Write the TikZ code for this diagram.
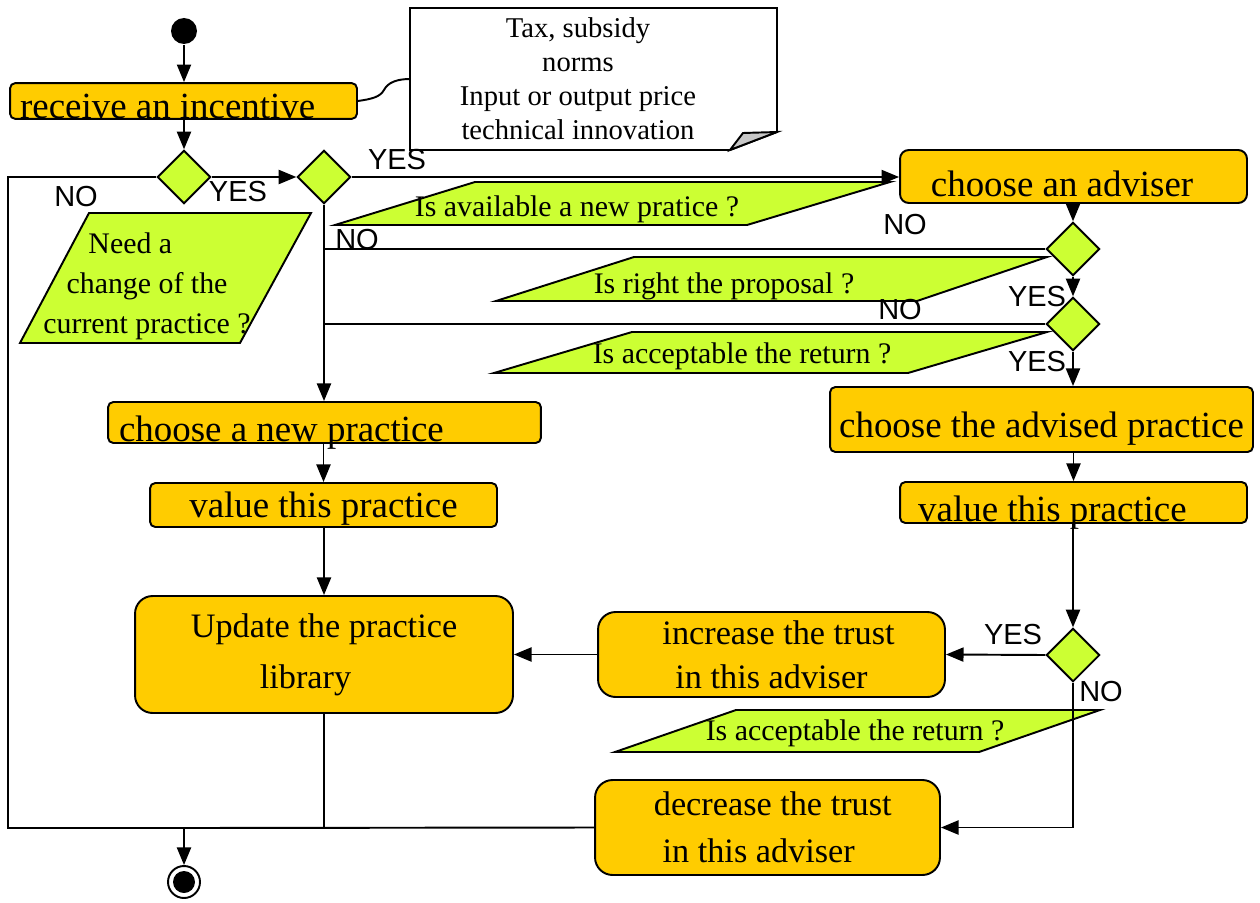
\documentclass[tikz,border=0pt]{standalone}
\usepackage{fontspec}
\setmainfont{Liberation Serif}
\newfontfamily\yesnofont{Liberation Sans}
\usetikzlibrary{arrows.meta,shapes.geometric}

\definecolor{actorange}{HTML}{FFCC00}
\definecolor{askgreen}{HTML}{CCFF33}
\definecolor{foldgray}{HTML}{C8C8C8}

\newcommand{\actfont}{\fontsize{21pt}{25pt}\selectfont}
\newcommand{\bigactfont}{\fontsize{19.5pt}{25pt}\selectfont}
\newcommand{\askfont}{\fontsize{17pt}{22.7pt}\selectfont}
\newcommand{\notefont}{\fontsize{16.3pt}{19.3pt}\selectfont}

\begin{document}
\begin{tikzpicture}[
    x=0.02cm, y=-0.02cm, line width=1.1pt,
    act/.style={rectangle, draw=black, fill=actorange, rounded corners=3pt, inner sep=0pt, font=\actfont, text depth=0pt},
    bigact/.style={rectangle, draw=black, fill=actorange, rounded corners=10pt, align=center, font=\bigactfont},
    sink/.style={text height=#1},
    choice/.style={diamond, draw=black, fill=askgreen, inner sep=0pt, minimum width=1.07cm, minimum height=1.07cm},
    ask/.style={draw=black, fill=askgreen},
    asktext/.style={font=\askfont, anchor=base},
    yn/.style={font=\yesnofont\fontsize{16.5pt}{18pt}\selectfont},
    arrow/.style={-{Triangle[length=10pt, width=8pt]}},
    startnode/.style={circle, fill=black, minimum size=0.52cm, inner sep=0pt},
    stopnode/.style={circle, draw=black, fill=white, minimum size=0.64cm, inner sep=0pt,
        path picture={\fill[black] (path picture bounding box.center) circle (0.22cm);}}
]
\useasboundingbox (0,0) rectangle (1260,902);

% Note with folded corner
\filldraw[fill=white] (410,8) -- (777,8) -- (777,132) -- (730,150) -- (410,150) -- cycle;
\filldraw[fill=foldgray] (730,150) -- (743,133) -- (777,132) -- cycle;
\node[font=\notefont, align=center] (note) at (578,79) {Tax, subsidy\\norms\\Input or output price\\technical innovation};
\coordinate (noteW) at (410,79);

% Questions
\filldraw[ask] (20,343) -- (240,343) -- (311,213) -- (89,213) -- cycle;
\node[font=\askfont, align=center] (q1) at (147,286) {Need a\hspace*{19pt}\\change of the\\current practice ?};
\filldraw[ask] (335,225) -- (747,225) -- (890,182) -- (475,182) -- cycle;
\node[asktext] (q2) at (577,216) {Is available a new pratice ?};
\filldraw[ask] (496,301) -- (917,301) -- (1047,257) -- (634,257) -- cycle;
\node[asktext] (q3) at (724,293) {Is right the proposal ?};
\filldraw[ask] (494,373) -- (908,373) -- (1047,332) -- (632,332) -- cycle;
\node[asktext] (q4) at (742,363) {Is acceptable the return ?};
\filldraw[ask] (615,752) -- (979,752) -- (1100,710) -- (736,710) -- cycle;
\node[asktext] (q5) at (855,740) {Is acceptable the return ?};

% Start and end
\node[startnode] (start) at (184,31) {};
\node[stopnode] (stop) at (184,882) {};

% Actions
\node[act, sink=20.4pt, minimum width=6.94cm, minimum height=0.64cm] (recv) at (183.5,101) {receive an incentive\hspace*{18pt}};
\node[act, rounded corners=5pt, sink=23.2pt, minimum width=6.94cm, minimum height=1.06cm] (adv) at (1073.5,176.5) {choose an adviser\hspace*{13pt}};
\node[act, sink=22pt, minimum width=8.66cm, minimum height=0.82cm] (newp) at (324.5,422.5) {choose a new practice\hspace*{49pt}};
\node[act, sink=14.7pt, minimum width=6.94cm, minimum height=0.88cm] (valL) at (323.5,505) {value this practice};
\node[act, sink=21pt, minimum width=8.46cm, minimum height=1.3cm] (advp) at (1041.5,419.5) {choose the advised practice};
\node[act, sink=22pt, minimum width=6.94cm, minimum height=0.82cm] (valR) at (1073.5,502.5) {value this practice\hspace*{24pt}};
\node[bigact, minimum width=7.56cm, minimum height=2.34cm] (upd) at (324,654.5) {Update the practice\\[4pt]library\hspace*{21pt}};
\node[bigact, minimum width=6.94cm, minimum height=1.7cm] (inc) at (771.5,654.5) {\hspace*{8pt}increase the trust\\in this adviser};
\node[bigact, minimum width=6.9cm, minimum height=1.9cm] (dec) at (767.5,827.5) {\hspace*{6pt}decrease the trust\\[2pt]in this adviser\hspace*{10pt}};

% Decisions
\node[choice] (d1) at (184,177) {};
\node[choice] (d2) at (324,177) {};
\node[choice] (d3) at (1073,249) {};
\node[choice] (d4) at (1073,324) {};
\node[choice] (d5) at (1073,655) {};

% YES / NO
\node[yn] (yes1) at (238,192) {YES};
\node[yn] (no1) at (76,197) {NO};
\node[yn] (yes2) at (397,160) {YES};
\node[yn] (no2) at (357,240) {NO};
\node[yn] (no3) at (905,225) {NO};
\node[yn] (yes3) at (1037,297) {YES};
\node[yn] (no4) at (900,310) {NO};
\node[yn] (yes4) at (1037,362) {YES};
\node[yn] (yes5) at (1013,635) {YES};
\node[yn] (no5) at (1101,692) {NO};

\coordinate (join) at (184,828);
\coordinate (loopL) at (8,177);

% Connectors
\draw (recv.east) .. controls (372,99) and (380,97) .. (384,90) .. controls (388,82) and (398,79) .. (noteW);
\draw[arrow] (start.south) -- (start.south |- recv.north);
\draw[arrow] (d1.north |- recv.south) -- (d1.north);
\draw[arrow] (d1.east) -- (d2.west);
\draw[arrow] (d2.east) -- (d2.east -| adv.west);
\draw[arrow] (d2.south) -- (d2.south |- newp.north);
\draw[arrow] (d3.north |- adv.south) -- (d3.north);
\draw (d3.west) -- (d3.west -| d2.south);
\draw[arrow] (d3.south) -- (d4.north);
\draw (d4.west) -- (d4.west -| d2.south);
\draw[arrow] (d4.south) -- (d4.south |- advp.north);
\draw[arrow] (valR.north |- advp.south) -- (valR.north);
\draw[arrow] (d5.north |- valR.south) -- (d5.north);
\draw[arrow] (d5.west) -- (inc.east);
\draw[arrow] (inc.west) -- (upd.east);
\draw[arrow] (d5.south) |- (dec.east);
\draw[arrow] (valL.north |- newp.south) -- (valL.north);
\draw[arrow] (upd.north |- valL.south) -- (upd.north);
\draw (upd.south) |- (join);
\draw (dec.west) -- (join);
\draw (d1.west) -- (loopL) |- (join);
\draw[arrow] (join) -- (stop.north);

\end{tikzpicture}
\end{document}
